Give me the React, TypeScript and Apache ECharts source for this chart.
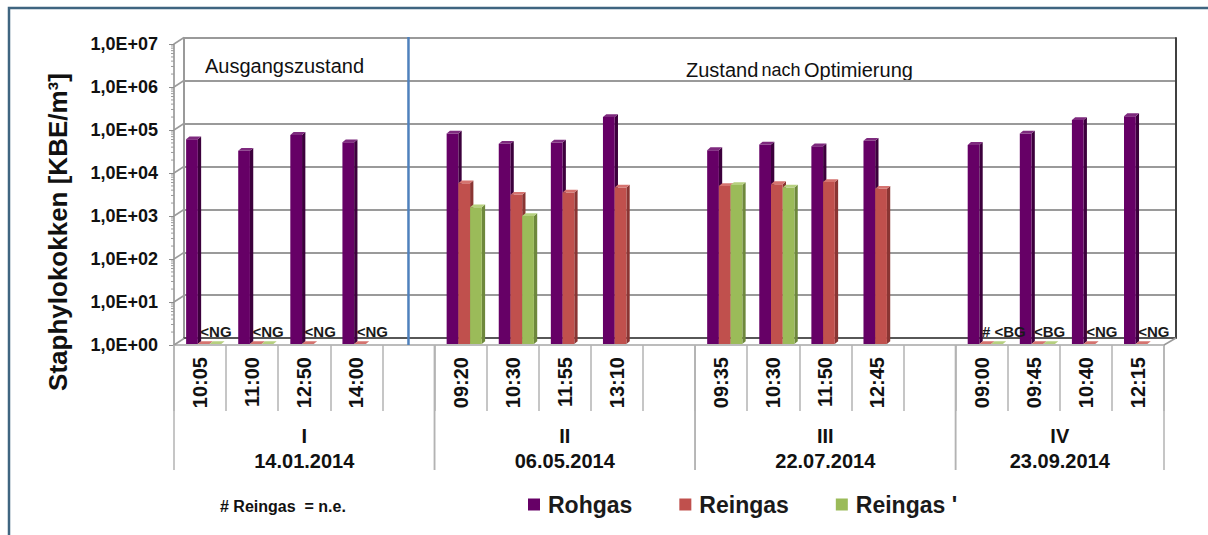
import React, { useEffect, useRef } from 'react';
import * as echarts from 'echarts';

// ---- data ----
const times = ['10:05', '11:00', '12:50', '14:00', '', '09:20', '10:30', '11:55', '13:10', '', '09:35', '10:30', '11:50', '12:45', '', '09:00', '09:45', '10:40', '12:15'];
const groupStart = [0, 5, 10, 15];
const groupSize = [5, 5, 5, 4];
const groupNames = ['I', 'II', 'III', 'IV'];
const groupDates = ['14.01.2014', '06.05.2014', '22.07.2014', '23.09.2014'];
const rohgas = [6.1e4, 3.3e4, 7.7e4, 5.2e4, null, 8.3e4, 4.8e4, 5.1e4, 2.0e5, null, 3.4e4, 4.6e4, 4.2e4, 5.6e4, null, 4.5e4, 8.3e4, 1.7e5, 2.1e5];
// values of 1 = below limit, plotted at the baseline
const reingas = [1, 1, 1, 1, null, 5.75e3, 3.1e3, 3.5e3, 4.6e3, null, 5.0e3, 5.5e3, 6.2e3, 4.3e3, null, 1, 1, 1, 1];
const reingas2 = [1, 1, null, null, null, 1.6e3, 1.0e3, null, null, null, 5.25e3, 4.6e3, null, null, null, 1, 1, null, null];
const notes = ['<NG', '<NG', '<NG', '<NG', null, null, null, null, null, null, null, null, null, null, null, '# <BG', '<BG', '<NG', '<NG'];
const decades = [1, 10, 100, 1e3, 1e4, 1e5, 1e6, 1e7];
const seriesNames = ['Rohgas', 'Reingas', "Reingas '"];

const PALETTE = [
  { front: '#660066', side: '#3c003c', top: '#7e2a7e' },
  { front: '#c0504d', side: '#8a3533', top: '#d5736f' },
  { front: '#9bbb59', side: '#6e883c', top: '#b6d07f' },
];

const DX = 3.3;
const DY = 2.8;

function toItems(arr: (number | null)[]) {
  const out: number[][] = [];
  arr.forEach((v, i) => { if (v != null) out.push([i, v]); });
  return out;
}

function barRender(k: number) {
  const c = PALETTE[k];
  return (params: any, api: any) => {
    const i = api.value(0);
    const v = api.value(1);
    const base = api.coord([i, 1]);
    const top = api.coord([i, v]);
    const bw = api.size([1, 1])[0];
    const w = bw * 0.225;
    const gc = base[0] + bw * 0.07;
    const x = gc - 1.5 * w + k * w;
    const yb = base[1] - 1;
    const yt = Math.min(top[1], yb);
    return {
      type: 'group',
      children: [
        { type: 'polygon', shape: { points: [[x + w, yt], [x + w + DX, yt - DY], [x + w + DX, yb - DY], [x + w, yb]] }, style: { fill: c.side } },
        { type: 'rect', shape: { x, y: yt, width: w, height: yb - yt }, style: { fill: c.front } },
        { type: 'polygon', shape: { points: [[x, yt], [x + DX, yt - DY], [x + w + DX, yt - DY], [x + w, yt]] }, style: { fill: c.top } },
      ],
    };
  };
}

const noteItems: { i: number; t: string }[] = [];
notes.forEach((t, i) => { if (t) noteItems.push({ i, t }); });

export default function App() {
  const ref = useRef<HTMLDivElement>(null);
  useEffect(() => {
    if (!ref.current) return;
    const chart = echarts.init(ref.current, undefined, { renderer: 'svg' });
    const font = 'Arial, "Liberation Sans", sans-serif';
    const option: any = {
      animation: false,
      backgroundColor: '#ffffff',
      grid: [
        { left: 184, top: 38, width: 992, height: 300 },
        { left: 174, top: 44, width: 990, height: 301 },
      ],
      legend: {
        data: seriesNames,
        left: 523,
        top: 488,
        icon: 'rect',
        itemWidth: 12,
        itemHeight: 12,
        itemGap: 47,
        selectedMode: false,
        textStyle: { fontSize: 23, fontWeight: 'bold', fontFamily: font, color: '#1a1a1a', padding: [0, 0, 0, 3] },
      },
      xAxis: [
        {
          type: 'category', gridIndex: 0, data: times,
          axisLine: { show: true, lineStyle: { color: '#404040', width: 1.5 } },
          axisTick: { show: false }, axisLabel: { show: false }, splitLine: { show: false },
        },
        {
          type: 'category', gridIndex: 1, data: times,
          axisLine: { show: true, lineStyle: { color: '#a6a6a6', width: 1.5 } },
          axisTick: { show: true, interval: 0, length: 66, lineStyle: { color: '#b3b3b3', width: 1.5 } },
          axisLabel: { interval: 0, rotate: 90, margin: 12, fontSize: 20, fontWeight: 'bold', fontFamily: font, color: '#111' },
          splitLine: { show: false },
        },
      ],
      yAxis: [
        {
          type: 'log', logBase: 10, gridIndex: 0, min: 1, max: 1e7, splitNumber: 7,
          axisLine: { show: true, lineStyle: { color: '#9a9a9a', width: 2 } },
          axisTick: { show: false }, axisLabel: { show: false },
          splitLine: { show: true, lineStyle: { color: '#9a9a9a', width: 2 } },
        },
        {
          type: 'log', logBase: 10, gridIndex: 1, min: 1, max: 1e7, splitNumber: 7,
          axisLine: { show: true, lineStyle: { color: '#8c8c8c', width: 1.5 } },
          axisTick: { show: true, length: 5, lineStyle: { color: '#8c8c8c', width: 1 } },
          axisLabel: {
            margin: 16, fontSize: 18, fontWeight: 'bold', fontFamily: font, color: '#111',
            formatter: (v: number) => '1,0E+' + String(Math.round(Math.log10(v))).padStart(2, '0'),
          },
          splitLine: { show: false },
        },
        {
          type: 'log', logBase: 10, gridIndex: 0, position: 'right', min: 1, max: 1e7, splitNumber: 7,
          axisLine: { show: true, lineStyle: { color: '#404040', width: 2 } },
          axisTick: { show: false }, axisLabel: { show: false }, splitLine: { show: false },
        },
      ],
      graphic: [
        { type: 'rect', shape: { x: 9, y: 8, width: 1260, height: 600 }, style: { fill: 'none', stroke: '#3f6580', lineWidth: 2.5 }, silent: true },
        { type: 'text', x: 205, y: 66, style: { text: 'Ausgangszustand', fontSize: 20, fontFamily: font, fill: '#111', align: 'left', verticalAlign: 'middle' } },
        {
          type: 'text', x: 686, y: 70,
          style: {
            text: '{a|Zustand} {b|nach} {a|Optimierung}', fontFamily: font, fill: '#111', align: 'left', verticalAlign: 'middle',
            rich: { a: { fontSize: 20, fontFamily: font, fill: '#111' }, b: { fontSize: 18, fontFamily: font, fill: '#111' } },
          },
        },
        {
          type: 'text', x: 58, y: 232, rotation: Math.PI / 2,
          style: { text: 'Staphylokokken [KBE/m³]', fontSize: 26, fontWeight: 'bold', fontFamily: font, fill: '#111', align: 'center', verticalAlign: 'middle' },
        },
        { type: 'text', x: 220, y: 506, style: { text: '# Reingas  = n.e.', fontSize: 16, fontWeight: 'bold', fontFamily: font, fill: '#111', align: 'left', verticalAlign: 'middle' } },
      ],
      series: [
        ...[rohgas, reingas, reingas2].map((arr, k) => ({
          type: 'custom', name: seriesNames[k], xAxisIndex: 1, yAxisIndex: 1, clip: false, z: 3,
          itemStyle: { color: PALETTE[k].front },
          renderItem: barRender(k),
          data: toItems(arr),
        })),
        {
          type: 'custom', name: 'notes', xAxisIndex: 1, yAxisIndex: 1, clip: false, z: 4,
          data: noteItems.map((o) => [o.i, 1]),
          renderItem: (params: any, api: any) => {
            const i = api.value(0);
            const base = api.coord([i, 1]);
            const bw = api.size([1, 1])[0];
            const w = bw * 0.225;
            const gc = base[0] + bw * 0.07;
            return {
              type: 'text', x: gc - 0.5 * w + 2.5, y: base[1] - 14,
              style: { text: noteItems[params.dataIndex].t, fontSize: 15, fontWeight: 'bold', fontFamily: font, fill: '#1a1a1a', align: 'left', verticalAlign: 'middle' },
            };
          },
        },
        {
          type: 'custom', name: 'wall', xAxisIndex: 1, yAxisIndex: 1, clip: false, z: 2,
          data: decades.map((v) => [0, v]),
          renderItem: (params: any, api: any) => {
            const v = api.value(1);
            const p = api.coord([0, v]);
            const bw = api.size([1, 1])[0];
            const x0 = p[0] - bw / 2;
            const children: any[] = [
              { type: 'line', shape: { x1: x0, y1: p[1], x2: x0 + 10, y2: p[1] - 6.5 }, style: { stroke: '#9a9a9a', lineWidth: 1.5 } },
            ];
            if (v < 1e7) {
              for (let m = 2; m <= 9; m++) {
                const y = api.coord([0, v * m])[1];
                children.push({ type: 'line', shape: { x1: x0 - 3, y1: y, x2: x0, y2: y }, style: { stroke: '#9a9a9a', lineWidth: 1 } });
              }
            }
            return { type: 'group', children };
          },
        },
        {
          type: 'custom', name: 'groups', xAxisIndex: 1, yAxisIndex: 1, clip: false, z: 2,
          data: groupStart.map((s, g) => [s, groupSize[g]]),
          renderItem: (params: any, api: any) => {
            const s = api.value(0);
            const c = api.value(1);
            const p = api.coord([s, 1]);
            const bw = api.size([1, 1])[0];
            const x0 = p[0] - bw / 2;
            const x1 = x0 + c * bw;
            const y = p[1];
            const cx = (x0 + x1) / 2;
            const g = params.dataIndex;
            return {
              type: 'group',
              children: [
                { type: 'line', shape: { x1: x0, y1: y, x2: x0, y2: y + 125 }, style: { stroke: '#b3b3b3', lineWidth: 1.5 } },
                { type: 'line', shape: { x1: x1, y1: y, x2: x1, y2: y + 125 }, style: { stroke: '#b3b3b3', lineWidth: 1.5 } },
                { type: 'text', x: cx, y: y + 91, style: { text: groupNames[g], fontSize: 20, fontWeight: 'bold', fontFamily: font, fill: '#111', align: 'center', verticalAlign: 'middle' } },
                { type: 'text', x: cx, y: y + 116, style: { text: groupDates[g], fontSize: 20, fontWeight: 'bold', fontFamily: font, fill: '#111', align: 'center', verticalAlign: 'middle' } },
              ],
            };
          },
        },
        {
          type: 'custom', name: 'divider', xAxisIndex: 1, yAxisIndex: 1, clip: false, z: 2,
          data: [[4, 1]],
          renderItem: (params: any, api: any) => {
            const p = api.coord([4, 1]);
            const ytop = api.coord([4, 1e7])[1] - 7;
            const bw = api.size([1, 1])[0];
            const right = api.coord([times.length - 1, 1])[0] + bw / 2;
            return {
              type: 'group',
              children: [
                { type: 'line', shape: { x1: p[0], y1: p[1], x2: p[0], y2: ytop }, style: { stroke: '#4f81bd', lineWidth: 2.5 } },
                { type: 'line', shape: { x1: right, y1: p[1], x2: right + 12, y2: p[1] - 7 }, style: { stroke: '#9a9a9a', lineWidth: 1.5 } },
              ],
            };
          },
        },
      ],
    };
    chart.setOption(option);
    return () => chart.dispose();
  }, []);
  return <div ref={ref} style={{ position: 'fixed', left: 0, top: 0, width: 1208, height: 535 }} />;
}
